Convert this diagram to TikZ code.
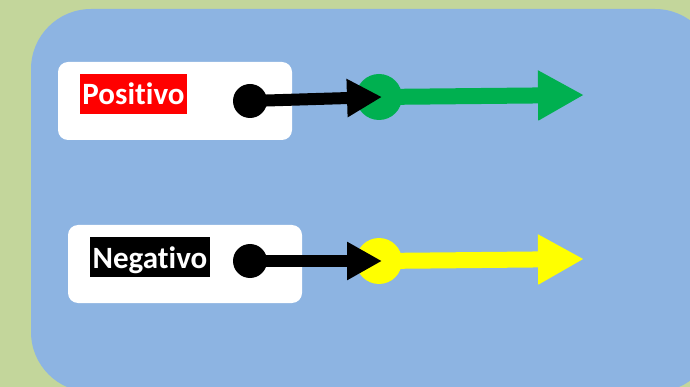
\documentclass[tikz,border=0pt]{standalone}
\usepackage{fontspec}
\setmainfont[Ligatures={NoCommon,NoContextual}]{Carlito}
\usetikzlibrary{arrows.meta}
\definecolor{bggreen}{RGB}{195,214,155}
\definecolor{panelblue}{RGB}{141,180,226}
\definecolor{posgreen}{RGB}{0,176,80}
\definecolor{negyellow}{RGB}{255,255,0}
\begin{document}
\begin{tikzpicture}[x=1pt,y=-1pt,
  card/.style={fill=white,draw=none,rounded corners=10pt},
  tag/.style={text=white,font=\bfseries\fontsize{31}{31}\selectfont,inner sep=0pt,minimum height=40pt,text height=22pt,text depth=0pt},
  dot/.style={circle,fill=black,inner sep=0pt,minimum size=34pt},
  hub/.style={circle,inner sep=0pt,minimum size=46pt},
  blackarrow/.style={draw=black,line width=12pt,-{Triangle[length=35pt,width=36pt]}},
  colarrow/.style={line width=16pt,-{Triangle[length=46pt,width=47pt]}}]
\useasboundingbox (0,0) rectangle (690,387);
\clip (0,0) rectangle (690,387);
\fill[bggreen] (0,0) rectangle (690,387);
\fill[panelblue,rounded corners=60pt] (31,9) rectangle (715,392);
% cards
\fill[card] (58,62) rectangle (292,140);
\fill[card] (68,225) rectangle (302,303);
% labels
\node[tag,fill=red,minimum width=107pt] (pos) at (133.5,94) {Positivo};
\node[tag,fill=black,minimum width=120pt] (neg) at (150,257) {Negativo};
% dots
\node[dot] (d1) at (250,101) {};
\node[dot] (d2) at (250,261) {};
% hubs
\node[hub,fill=posgreen] (c1) at (379,97) {};
\node[hub,fill=negyellow] (c2) at (379,261) {};
\coordinate (e1) at (584,95);
\coordinate (e2) at (584,259);
% coloured arrows
\draw[colarrow,draw=posgreen,fill=posgreen] (c1.center) -- (e1);
\draw[colarrow,draw=negyellow,fill=negyellow] (c2.center) -- (e2);
% black arrows
\draw[blackarrow] (d1.center) -- ([xshift=3pt]c1.center);
\draw[blackarrow] (d2.center) -- ([xshift=3pt]c2.center);
\end{tikzpicture}
\end{document}
